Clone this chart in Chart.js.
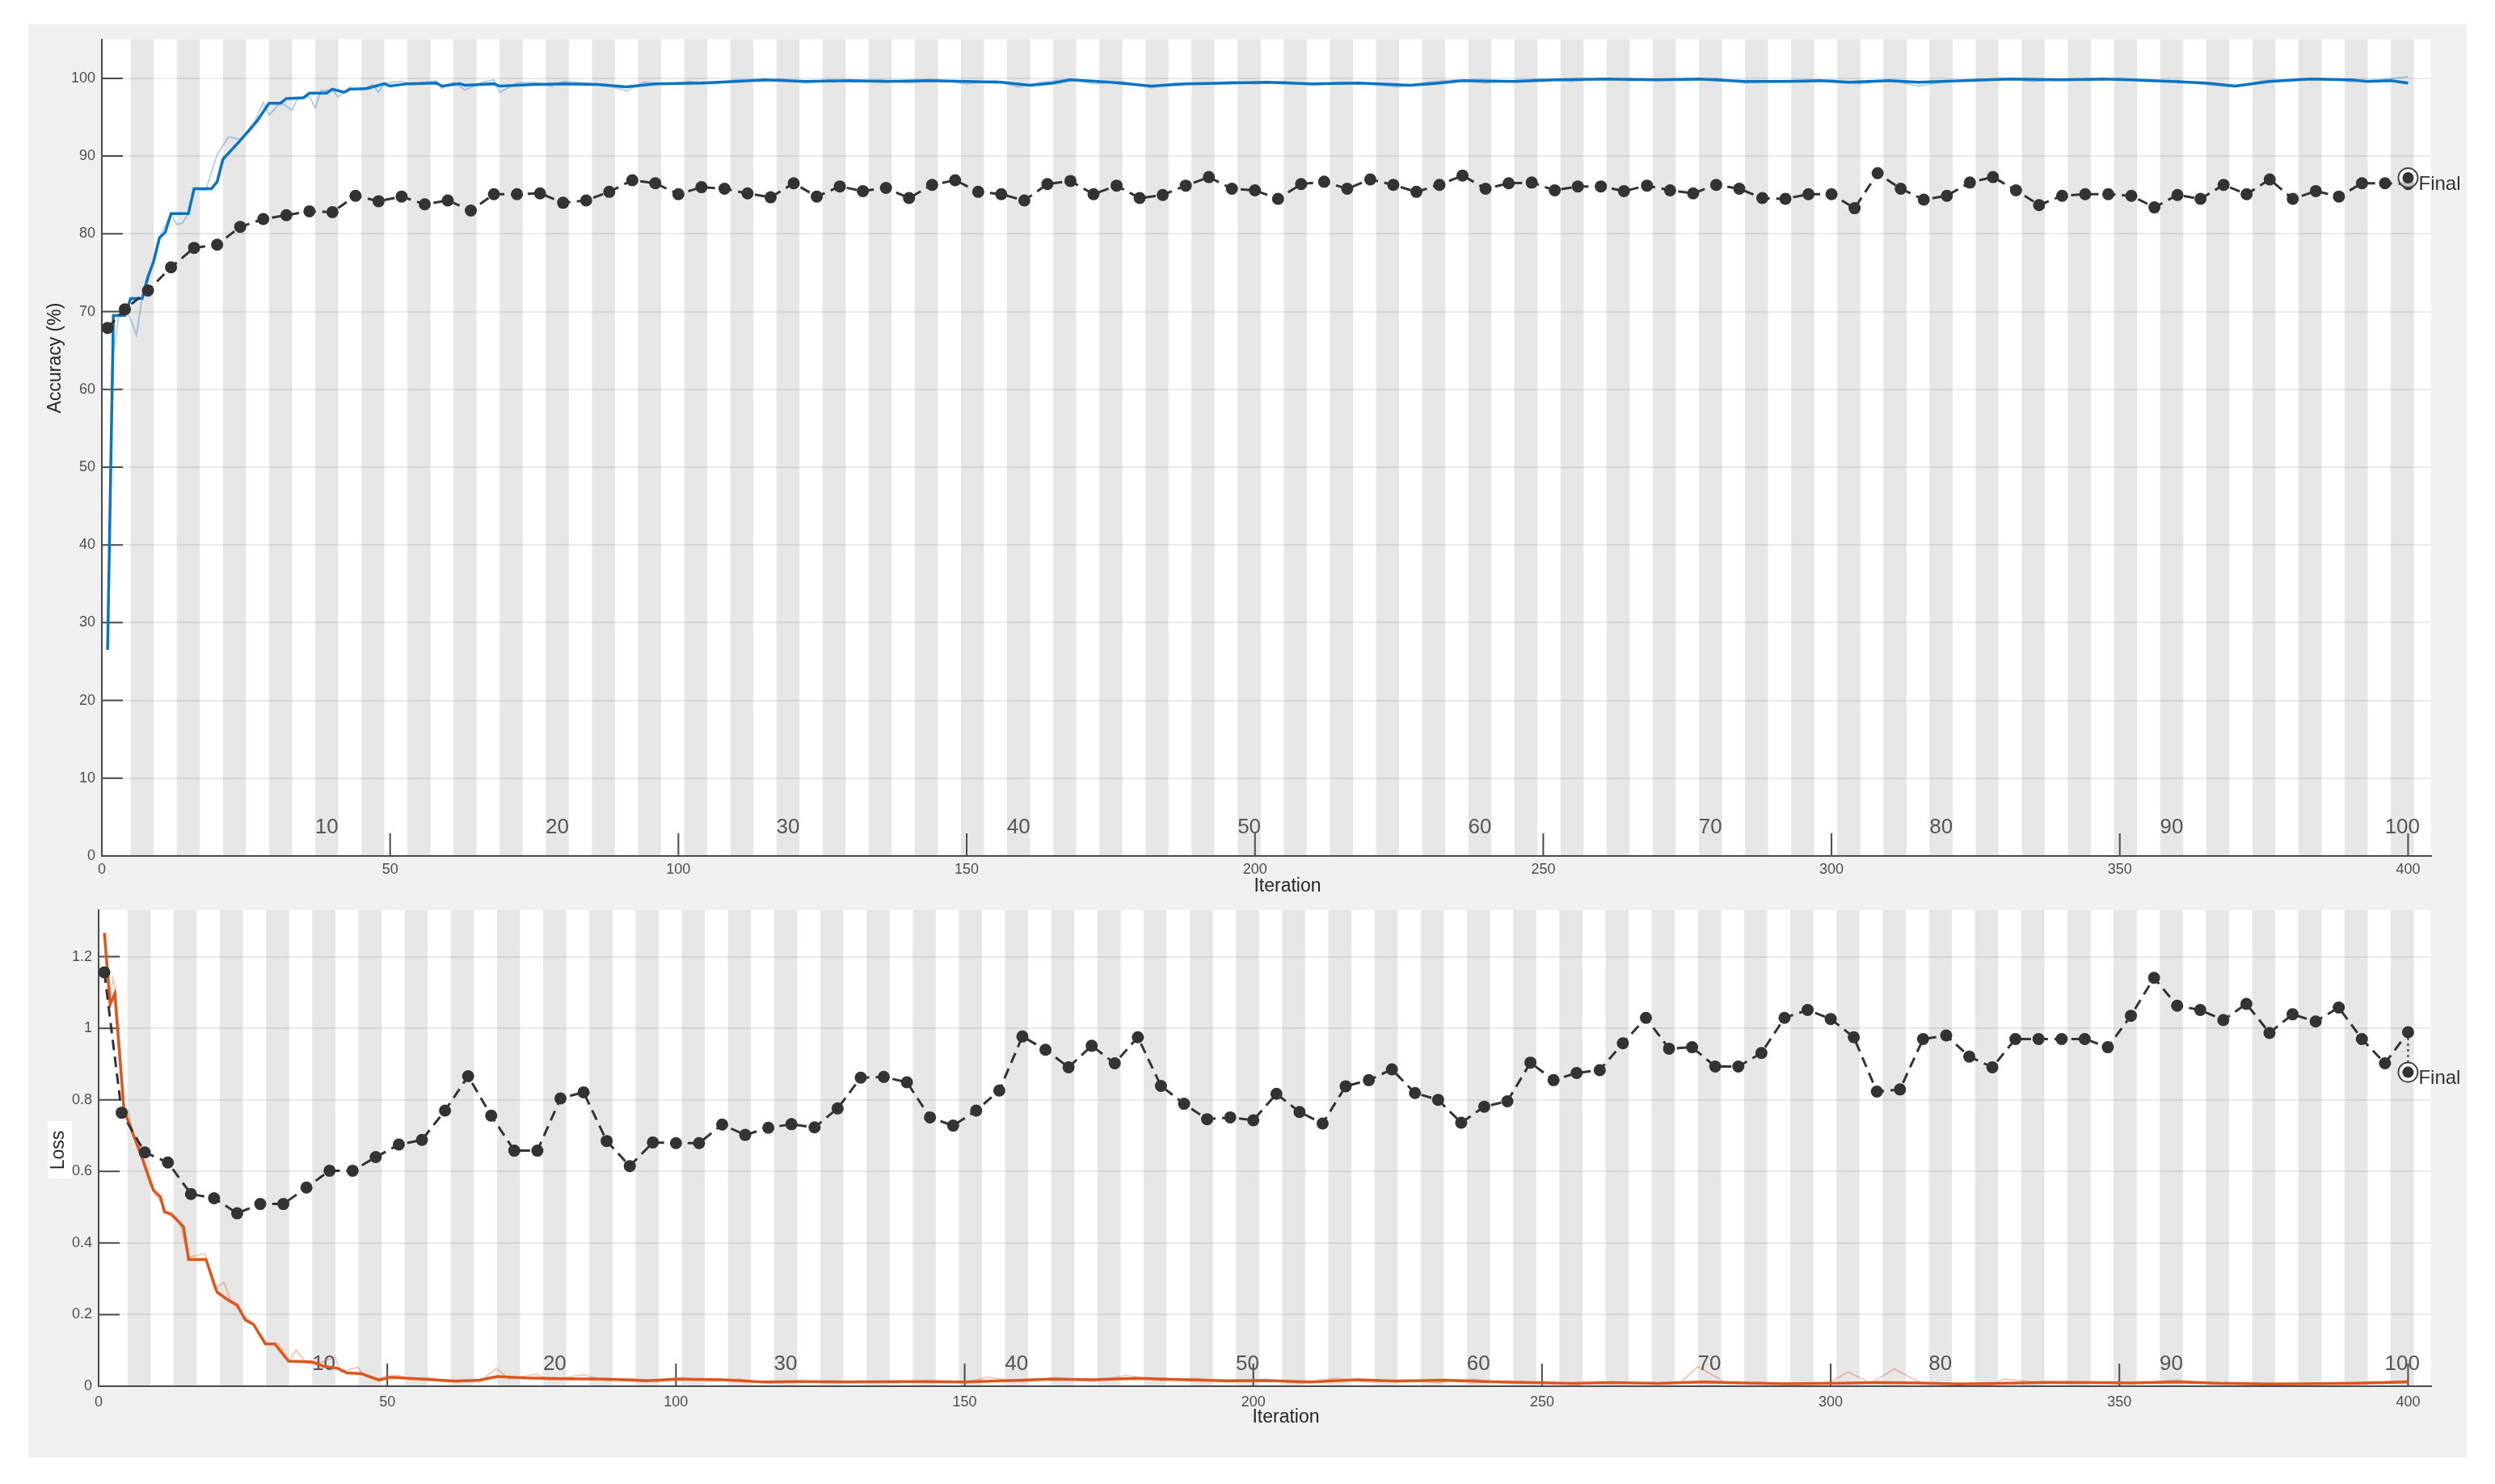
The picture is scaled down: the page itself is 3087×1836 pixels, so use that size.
<!DOCTYPE html>
<html>
<head>
<meta charset="utf-8">
<script src="https://cdn.jsdelivr.net/npm/chart.js@4.4.1/dist/chart.umd.min.js"></script>
<style>
  body { margin: 0; background: #fff; width: 3087px; height: 1836px; overflow: hidden; }
  #panel { position: absolute; left: 35px; top: 30px; width: 3017px; height: 1773px; background: #f0f0f0; }
  canvas { position: absolute; left: 0; }
  #accChart { top: 0; }
  #lossChart { top: 1060px; }
</style>
</head>
<body>
<div id="panel">
  <canvas id="accChart" width="3017" height="1090"></canvas>
  <canvas id="lossChart" width="3017" height="690"></canvas>
</div>
<script>
const itersPerEpoch = 4;
const epochCount = 100;
const epochLabels = [10, 20, 30, 40, 50, 60, 70, 80, 90, 100];
const xTicks = [0, 50, 100, 150, 200, 250, 300, 350, 400];
const accTicks = [0, 10, 20, 30, 40, 50, 60, 70, 80, 90, 100];
const lossTicks = [0, 0.2, 0.4, 0.6, 0.8, 1, 1.2];

// validation is checked once per epoch
const valIter = [1, 4, 8, 12, 16, 20, 24, 28, 32, 36,
  40, 44, 48, 52, 56, 60, 64, 68, 72, 76,
  80, 84, 88, 92, 96, 100, 104, 108, 112, 116,
  120, 124, 128, 132, 136, 140, 144, 148, 152, 156,
  160, 164, 168, 172, 176, 180, 184, 188, 192, 196,
  200, 204, 208, 212, 216, 220, 224, 228, 232, 236,
  240, 244, 248, 252, 256, 260, 264, 268, 272, 276,
  280, 284, 288, 292, 296, 300, 304, 308, 312, 316,
  320, 324, 328, 332, 336, 340, 344, 348, 352, 356,
  360, 364, 368, 372, 376, 380, 384, 388, 392, 396,
  400];
const valAcc = [67.9, 70.3, 72.7, 75.7, 78.2, 78.6, 80.9, 81.9, 82.4, 82.9,
  82.8, 84.9, 84.2, 84.8, 83.8, 84.3, 83.0, 85.1, 85.1, 85.2,
  84.0, 84.3, 85.4, 86.9, 86.5, 85.1, 86.0, 85.8, 85.2, 84.7,
  86.5, 84.8, 86.1, 85.5, 85.9, 84.6, 86.3, 86.9, 85.4, 85.1,
  84.3, 86.4, 86.8, 85.1, 86.2, 84.6, 85.0, 86.2, 87.3, 85.8,
  85.6, 84.5, 86.4, 86.7, 85.8, 87.0, 86.3, 85.4, 86.3, 87.5,
  85.8, 86.5, 86.6, 85.6, 86.1, 86.1, 85.5, 86.2, 85.6, 85.2,
  86.3, 85.8, 84.6, 84.5, 85.1, 85.1, 83.3, 87.8, 85.8, 84.4,
  84.9, 86.6, 87.3, 85.6, 83.7, 84.9, 85.1, 85.1, 84.9, 83.4,
  85.0, 84.5, 86.3, 85.1, 87.0, 84.5, 85.5, 84.8, 86.5, 86.5,
  86.4];
const valLoss = [1.156, 0.764, 0.653, 0.625, 0.537, 0.525, 0.483, 0.509, 0.509, 0.555,
  0.602, 0.602, 0.640, 0.675, 0.688, 0.770, 0.866, 0.756, 0.658, 0.658,
  0.804, 0.821, 0.685, 0.615, 0.681, 0.679, 0.679, 0.731, 0.702, 0.722,
  0.732, 0.723, 0.776, 0.862, 0.864, 0.849, 0.751, 0.728, 0.770, 0.826,
  0.977, 0.940, 0.891, 0.951, 0.902, 0.975, 0.839, 0.789, 0.746, 0.751,
  0.743, 0.817, 0.766, 0.734, 0.838, 0.855, 0.885, 0.819, 0.800, 0.736,
  0.781, 0.796, 0.904, 0.855, 0.875, 0.883, 0.958, 1.029, 0.943, 0.947,
  0.893, 0.893, 0.931, 1.029, 1.051, 1.026, 0.975, 0.823, 0.829, 0.970,
  0.980, 0.921, 0.891, 0.970, 0.970, 0.970, 0.970, 0.947, 1.035, 1.141,
  1.063, 1.051, 1.023, 1.068, 0.987, 1.039, 1.019, 1.058, 0.970, 0.902,
  0.989];

const finalIter = 400;
const finalAcc = 87.2;
const finalLoss = 0.877;

// [iteration, value]
const trainAccSmooth = [[1,26.5],[2,69.5],[4,69.5],[5,71.7],[7,71.7],[8,74.5],[9,76.5],[10,79.5],[11,80.2],[12,82.6],
  [15,82.6],[16,85.8],[19,85.8],[20,86.7],[21,89.6],[24,92.0],[27,94.6],[29,96.8],[31,96.8],[32,97.4],
  [35,97.5],[36,98.1],[39,98.1],[40,98.6],[42,98.2],[43,98.6],[46,98.7],[49,99.3],[50,99.0],[53,99.3],
  [58,99.4],[59,99.0],[62,99.3],[63,99.1],[68,99.3],[69,99.0],[75,99.2],[80,99.3],[86,99.2],[91,98.9],
  [96,99.3],[104,99.4],[110,99.6],[115,99.8],[122,99.6],[130,99.7],[136,99.6],[143,99.7],[150,99.6],[156,99.5],
  [161,99.1],[165,99.4],[168,99.8],[175,99.5],[182,99.0],[188,99.3],[195,99.4],[202,99.5],[210,99.3],[218,99.4],
  [227,99.1],[232,99.4],[236,99.7],[245,99.6],[252,99.8],[261,99.9],[270,99.8],[277,99.9],[285,99.6],[292,99.6],
  [298,99.7],[303,99.5],[310,99.7],[315,99.5],[323,99.7],[331,99.9],[340,99.8],[347,99.9],[352,99.8],[359,99.6],
  [365,99.4],[370,99.0],[376,99.6],[383,99.9],[390,99.8],[393,99.6],[397,99.7],[400,99.4]];
const trainAccRaw = [[1,26.5],[2,64.5],[3,69.8],[4,70.5],[5,69.0],[6,67.0],[7,71.9],[8,74.0],[10,79.5],[12,82.6],
  [13,81.2],[14,81.4],[15,82.6],[16,85.8],[18,85.6],[20,90.2],[22,92.5],[24,92.1],[26,93.5],[28,96.9],
  [29,95.3],[31,96.9],[33,95.9],[34,97.5],[36,97.7],[37,96.2],[38,98.4],[40,98.5],[41,97.6],[43,98.9],
  [45,98.5],[47,99.2],[48,98.2],[49,99.4],[52,99.6],[54,99.2],[56,99.5],[58,99.7],[59,98.7],[61,99.5],
  [63,98.5],[66,99.5],[68,99.8],[69,98.2],[72,99.4],[75,99.5],[78,99.0],[80,99.6],[84,99.4],[88,99.0],
  [91,98.4],[94,99.5],[98,99.2],[102,99.6],[106,99.3],[110,99.8],[114,99.6],[118,99.9],[122,99.4],[126,99.8],
  [131,99.5],[135,99.8],[140,99.4],[145,99.8],[150,99.3],[155,99.7],[159,98.9],[163,99.5],[168,99.9],[172,99.3],
  [177,99.6],[182,98.8],[186,99.4],[191,99.2],[196,99.6],[200,99.3],[205,99.6],[210,99.1],[215,99.5],[220,99.3],
  [225,98.9],[230,99.5],[235,99.8],[240,99.4],[245,99.7],[250,99.9],[255,99.6],[260,100.0],[265,99.7],[270,99.9],
  [275,99.7],[280,100.0],[285,99.4],[290,99.7],[295,99.5],[300,99.8],[305,99.3],[310,99.8],[315,99.0],[320,99.6],
  [325,99.8],[330,100.0],[335,99.6],[340,99.9],[345,99.7],[350,100.0],[355,99.6],[360,99.7],[365,99.2],[370,98.9],
  [375,99.7],[380,99.8],[385,100.0],[390,99.6],[395,99.8],[400,100.2]];

const trainLossSmooth = [[1,1.266],[2,1.067],[2.8,1.097],[4.4,0.771],[7.4,0.644],[9.5,0.547],[10.7,0.529],[11.4,0.487],[12.6,0.481],[14.7,0.445],
  [15.6,0.354],[18.6,0.354],[20.5,0.263],[22.6,0.239],[24,0.227],[25.4,0.185],[26.8,0.173],[28.9,0.118],[30.5,0.118],[32.9,0.070],
  [37,0.068],[38.9,0.056],[41.4,0.050],[43,0.037],[45.5,0.035],[48.6,0.017],[50.5,0.025],[55,0.021],[62,0.014],[66,0.017],
  [69,0.027],[74,0.023],[80,0.021],[88,0.020],[95,0.015],[100,0.020],[108,0.018],[115,0.012],[122,0.013],[130,0.012],
  [140,0.013],[150,0.012],[158,0.016],[165,0.020],[172,0.018],[180,0.022],[188,0.018],[195,0.015],[202,0.016],[210,0.012],
  [218,0.018],[225,0.014],[233,0.017],[240,0.013],[248,0.010],[255,0.008],[262,0.010],[270,0.008],[278,0.012],[285,0.009],
  [292,0.007],[300,0.008],[308,0.010],[315,0.009],[322,0.006],[330,0.008],[338,0.011],[345,0.010],[352,0.009],[360,0.012],
  [368,0.008],[375,0.006],[382,0.007],[390,0.008],[396,0.010],[400,0.012]];
const trainLossRaw = [[1,1.266],[2,1.09],[2.5,1.14],[3,1.10],[4.4,0.78],[5.1,0.77],[6,0.70],[7.4,0.64],[9,0.56],[10.5,0.52],
  [12,0.48],[14,0.46],[15.6,0.36],[18.4,0.37],[20,0.27],[21.7,0.29],[23,0.235],[25,0.20],[27,0.17],[29,0.12],
  [31,0.12],[33,0.07],[34.2,0.101],[36,0.065],[38,0.062],[40.9,0.082],[42,0.04],[44.9,0.053],[46,0.03],[48,0.02],
  [50,0.028],[52,0.03],[54,0.018],[57,0.024],[60,0.012],[63,0.018],[66,0.012],[68.9,0.05],[71,0.02],[75.8,0.033],
  [78,0.018],[82,0.027],[84,0.032],[88,0.015],[92,0.022],[97,0.012],[101,0.024],[106,0.014],[111,0.02],[116,0.008],
  [121,0.016],[126,0.01],[132,0.015],[138,0.009],[144,0.017],[150,0.01],[154,0.025],[160,0.012],[166,0.024],[172,0.014],
  [178,0.03],[184,0.016],[190,0.022],[196,0.01],[202,0.02],[208,0.008],[214,0.022],[220,0.012],[226,0.018],[232,0.01],
  [238,0.02],[244,0.008],[250,0.012],[256,0.005],[262,0.012],[268,0.006],[274,0.01],[277,0.055],[282,0.008],[288,0.01],
  [294,0.005],[300,0.012],[303,0.04],[307,0.008],[311,0.048],[316,0.006],[322,0.008],[328,0.004],[330,0.02],[336,0.01],
  [342,0.008],[348,0.012],[354,0.008],[360,0.018],[366,0.006],[372,0.01],[378,0.005],[384,0.008],[390,0.01],[396,0.012],
  [400,0.015]];

const FONT = '"Liberation Sans", Arial, sans-serif';
const pairs = arr => arr.map(([x, y]) => ({x, y}));
const toPoints = (xs, ys) => xs.map((x, i) => ({x, y: ys[i]}));

// epoch stripes, inward ticks, epoch numbers, "Final" tag and the axis titles
const trainingPlot = {
  id: 'trainingPlot',
  beforeDraw(chart) {
    const {ctx, chartArea: a, scales: {x}} = chart;
    ctx.save();
    ctx.fillStyle = '#ffffff';
    ctx.fillRect(a.left, a.top, a.width, a.height);
    ctx.fillStyle = '#e6e6e6';
    for (let e = 2; e <= epochCount; e += 2) {
      const x0 = x.getPixelForValue((e - 1) * itersPerEpoch + 1);
      const x1 = x.getPixelForValue(e * itersPerEpoch + 1);
      ctx.fillRect(x0, a.top, x1 - x0, a.height);
    }
    ctx.restore();
  },
  beforeDatasetsDraw(chart, args, opts) {
    const {ctx, chartArea: a, scales: {x, y}} = chart;
    ctx.save();
    ctx.strokeStyle = '#4a4a4a';
    ctx.lineWidth = 2;
    ctx.beginPath();
    y.ticks.forEach(t => {
      const py = y.getPixelForValue(t.value);
      ctx.moveTo(a.left, py);
      ctx.lineTo(a.left + 26, py);
    });
    x.ticks.forEach(t => {
      if (t.value === 0) return;
      const px = x.getPixelForValue(t.value);
      ctx.moveTo(px, a.bottom);
      ctx.lineTo(px, a.bottom - 28);
    });
    ctx.stroke();
    ctx.fillStyle = '#555';
    ctx.font = '26px ' + FONT;
    ctx.textAlign = 'center';
    ctx.textBaseline = 'middle';
    epochLabels.forEach(e => {
      ctx.fillText(String(e), x.getPixelForValue(e * itersPerEpoch - 1), a.bottom - opts.epochOffset);
    });
    ctx.restore();
  },
  afterDatasetsDraw(chart, args, opts) {
    const {ctx, chartArea: a, scales: {x, y}} = chart;
    ctx.save();
    ctx.fillStyle = '#333';
    ctx.font = '24px ' + FONT;
    ctx.textAlign = 'left';
    ctx.textBaseline = 'middle';
    ctx.fillText('Final', x.getPixelForValue(finalIter) + 13, y.getPixelForValue(opts.finalY) + 8);

    ctx.fillStyle = '#262626';
    ctx.font = '23px ' + FONT;
    ctx.textAlign = 'center';
    ctx.fillText('Iteration', (a.left + a.right) / 2 + 26, opts.xTitleY);

    if (opts.titleBox) {
      ctx.fillStyle = '#ffffff';
      ctx.fillRect(...opts.titleBox);
    }
    ctx.translate(opts.titleX, opts.titleY);
    ctx.rotate(-Math.PI / 2);
    ctx.fillStyle = '#262626';
    ctx.fillText(opts.title, 0, 0);
    ctx.restore();
  }
};

function seriesSets(smooth, raw, val, finalY, color, rawColor) {
  const last = val[val.length - 1];
  return [
    {data: pairs(raw), borderColor: rawColor, borderWidth: 2, pointRadius: 0, order: 5},
    {data: pairs(smooth), borderColor: color, borderWidth: 3.5, pointRadius: 0, order: 4},
    {data: toPoints(valIter, val), borderColor: '#333', borderWidth: 3, borderDash: [13, 8],
      pointRadius: 7.5, pointBackgroundColor: '#333', pointBorderWidth: 0, order: 3},
    {data: [{x: finalIter, y: last}, {x: finalIter, y: finalY}], borderColor: '#333', borderWidth: 2,
      borderDash: [3, 4], pointRadius: 0, order: 2},
    {data: [{x: finalIter, y: finalY}], showLine: false, pointRadius: 12,
      pointBackgroundColor: 'rgba(255,255,255,0.7)', pointBorderColor: '#444', pointBorderWidth: 2, order: 1},
    {data: [{x: finalIter, y: finalY}], showLine: false, pointRadius: 7,
      pointBackgroundColor: '#333', pointBorderWidth: 0, order: 0}
  ];
}

function buildChart(id, cfg) {
  return new Chart(document.getElementById(id), {
    type: 'line',
    data: {datasets: cfg.datasets},
    options: {
      responsive: false,
      animation: false,
      devicePixelRatio: 1,
      layout: {padding: {top: cfg.padTop, right: 44, left: 0, bottom: 0}},
      plugins: {legend: {display: false}, tooltip: {enabled: false}, trainingPlot: cfg.plot},
      scales: {
        x: {
          type: 'linear', min: 0, max: 404,
          afterFit: s => { s.height = cfg.xHeight; },
          afterBuildTicks: s => { s.ticks = xTicks.map(v => ({value: v})); },
          grid: {display: false, drawTicks: false},
          border: {color: '#4a4a4a', width: 2},
          ticks: {padding: cfg.xTickPad, color: '#4d4d4d', font: {size: 18, family: FONT},
            autoSkip: false, maxRotation: 0, callback: v => String(v)}
        },
        y: {
          type: 'linear', min: cfg.yMin, max: cfg.yMax,
          afterFit: s => { s.width = cfg.yWidth; },
          afterBuildTicks: s => { s.ticks = cfg.yTicks.map(v => ({value: v})); },
          grid: {color: 'rgba(0,0,0,0.08)', lineWidth: 2, drawTicks: false},
          border: {color: '#4a4a4a', width: 2},
          ticks: {padding: 8, color: '#4d4d4d', font: {size: 18, family: FONT},
            autoSkip: false, callback: v => String(v)}
        }
      }
    },
    plugins: [trainingPlot]
  });
}

buildChart('accChart', {
  datasets: seriesSets(trainAccSmooth, trainAccRaw, valAcc, finalAcc, '#0b74c2', 'rgba(0,114,189,0.3)'),
  padTop: 13, xHeight: 61, xTickPad: 6,
  yMin: 0, yMax: 105, yWidth: 91, yTicks: accTicks,
  plot: {epochOffset: 35, finalY: finalAcc, title: 'Accuracy (%)', titleX: 34, titleY: 413, xTitleY: 1067}
});

buildChart('lossChart', {
  datasets: seriesSets(trainLossSmooth, trainLossRaw, valLoss, finalLoss, '#de561b', 'rgba(217,83,25,0.3)'),
  padTop: 36, xHeight: 65, xTickPad: 9,
  yMin: 0, yMax: 1.33, yWidth: 87, yTicks: lossTicks,
  plot: {epochOffset: 27, finalY: finalLoss, title: 'Loss', titleX: 38, titleY: 333, xTitleY: 664,
    titleBox: [24, 297, 30, 71]}
});
</script>
</body>
</html>
